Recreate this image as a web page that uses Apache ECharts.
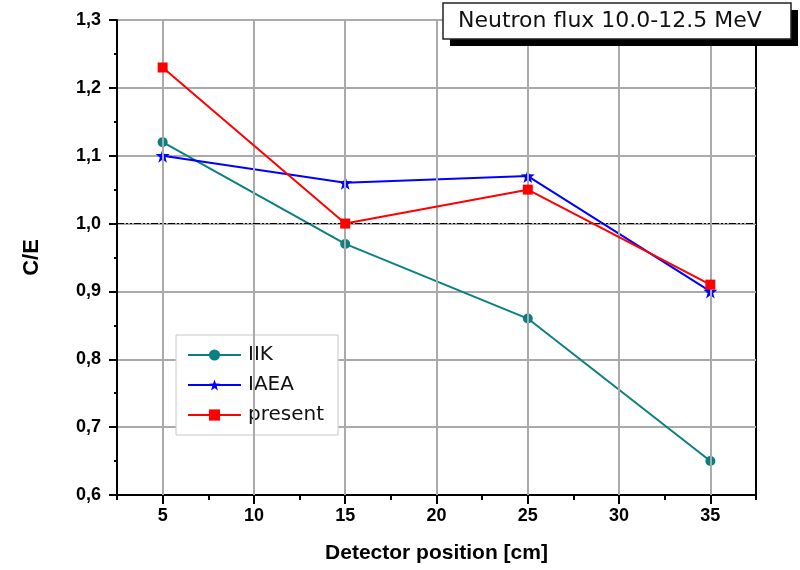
<!DOCTYPE html>
<html><head><meta charset="utf-8">
<script src="https://cdn.jsdelivr.net/npm/echarts@6/dist/echarts.min.js"></script>
<style>html,body{margin:0;padding:0;background:#fff}#c{width:800px;height:570px}</style>
</head><body><div id="c"></div>
<script>
const positions = [5, 15, 25, 35];
const iik = [1.12, 0.97, 0.86, 0.65];
const iaea = [1.10, 1.06, 1.07, 0.90];
const present = [1.23, 1.00, 1.05, 0.91];
const xMajorTicks = [5, 10, 15, 20, 25, 30, 35];
const xMinorTicks = [2.5, 7.5, 12.5, 17.5, 22.5, 27.5, 32.5, 37.5];
const refLine = 1.0;
const titleText = 'Neutron flux 10.0-12.5 MeV';

const boldFont = '"Liberation Sans", Arial, sans-serif';
const plainFont = '"DejaVu Sans", sans-serif';
const pair = (xs, ys) => xs.map((x, i) => [x, ys[i]]);

const chart = echarts.init(document.getElementById('c'));
chart.setOption({
  animation: false,
  backgroundColor: '#fff',
  grid: { left: 117, right: 44, top: 20, bottom: 75, show: true, borderColor: '#000', borderWidth: 2, backgroundColor: 'transparent' },
  legend: {
    orient: 'vertical', left: 176, top: 335,
    backgroundColor: '#fff', borderColor: '#c8c8c8', borderWidth: 1,
    padding: [10, 14, 10, 11], itemGap: 10, itemWidth: 53, itemHeight: 14,
    textStyle: { fontFamily: plainFont, fontSize: 20, color: '#111', padding: [0, 0, 0, 2] },
    data: ['IIK', 'IAEA', 'present']
  },
  xAxis: [{
    type: 'value', min: 2.5, max: 37.5, position: 'bottom',
    name: 'Detector position [cm]', nameLocation: 'middle', nameGap: 48,
    nameTextStyle: { fontFamily: boldFont, fontWeight: 'bold', fontSize: 21, color: '#000' },
    axisLine: { lineStyle: { color: '#000', width: 2 } },
    axisTick: { show: true, length: 9, customValues: xMajorTicks, lineStyle: { color: '#000', width: 2 } },
    axisLabel: { margin: 12, fontFamily: boldFont, fontWeight: 'bold', fontSize: 18, color: '#000', customValues: xMajorTicks },
    splitLine: { show: false }
  }, {
    type: 'value', min: 2.5, max: 37.5, position: 'bottom', offset: 0,
    axisLine: { show: false },
    axisTick: { show: true, length: 5, customValues: xMinorTicks, lineStyle: { color: '#000', width: 2 } },
    axisLabel: { show: false },
    splitLine: { show: false }
  }],
  yAxis: {
    type: 'value', min: 0.6, max: 1.3, interval: 0.1,
    name: 'C/E', nameLocation: 'middle', nameGap: 74,
    nameTextStyle: { fontFamily: boldFont, fontWeight: 'bold', fontSize: 22, color: '#000' },
    axisLine: { lineStyle: { color: '#000', width: 2 } },
    axisTick: { show: true, length: 8, lineStyle: { color: '#000', width: 2 } },
    minorTick: { show: true, splitNumber: 2, length: 3, lineStyle: { color: '#000', width: 2 } },
    axisLabel: { margin: 16, fontFamily: boldFont, fontWeight: 'bold', fontSize: 18, color: '#000',
      formatter: v => v.toFixed(1).replace('.', ',') },
    splitLine: { show: true, lineStyle: { color: '#aaa', width: 2 } }
  },
  graphic: [
    { type: 'rect', z: 100, shape: { x: 450, y: 10, width: 348, height: 36 }, style: { fill: '#000' } },
    { type: 'rect', z: 101, shape: { x: 443, y: 3, width: 348, height: 36 }, style: { fill: '#fff', stroke: '#222', lineWidth: 1.5 } },
    { type: 'text', z: 102, x: 458, y: 21, style: { text: titleText, font: '22px "DejaVu Sans", sans-serif', fill: '#111', textVerticalAlign: 'middle', verticalAlign: 'middle' } }
  ],
  series: [
    {
      name: 'grid', type: 'line', data: [], silent: true,
      markLine: {
        silent: true, symbol: 'none', label: { show: false },
        lineStyle: { color: '#aaa', width: 2, type: 'solid' },
        data: xMajorTicks.map(v => ({ xAxis: v }))
      }
    },
    {
      name: 'ref', type: 'line', data: [], silent: true,
      markLine: {
        silent: true, symbol: 'none', label: { show: false },
        lineStyle: { color: '#000', width: 1, type: [7, 2, 2, 2, 2, 2] },
        data: [{ yAxis: refLine }]
      }
    },
    {
      name: 'IIK', type: 'line', data: pair(positions, iik),
      color: '#0a8080', symbol: 'circle', symbolSize: 10,
      lineStyle: { width: 2 }, z: 3
    },
    {
      name: 'IAEA', type: 'line', data: pair(positions, iaea),
      color: '#0000ff', symbol: 'path://M0,-10 L2.35,-3.24 L9.51,-3.09 L3.8,1.24 L5.88,8.09 L0,4 L-5.88,8.09 L-3.8,1.24 L-9.51,-3.09 L-2.35,-3.24 Z', symbolSize: 14,
      lineStyle: { width: 2 }, z: 4
    },
    {
      name: 'present', type: 'line', data: pair(positions, present),
      color: '#ff0000', symbol: 'rect', symbolSize: 10,
      lineStyle: { width: 2 }, z: 5
    }
  ]
});
</script></body></html>
